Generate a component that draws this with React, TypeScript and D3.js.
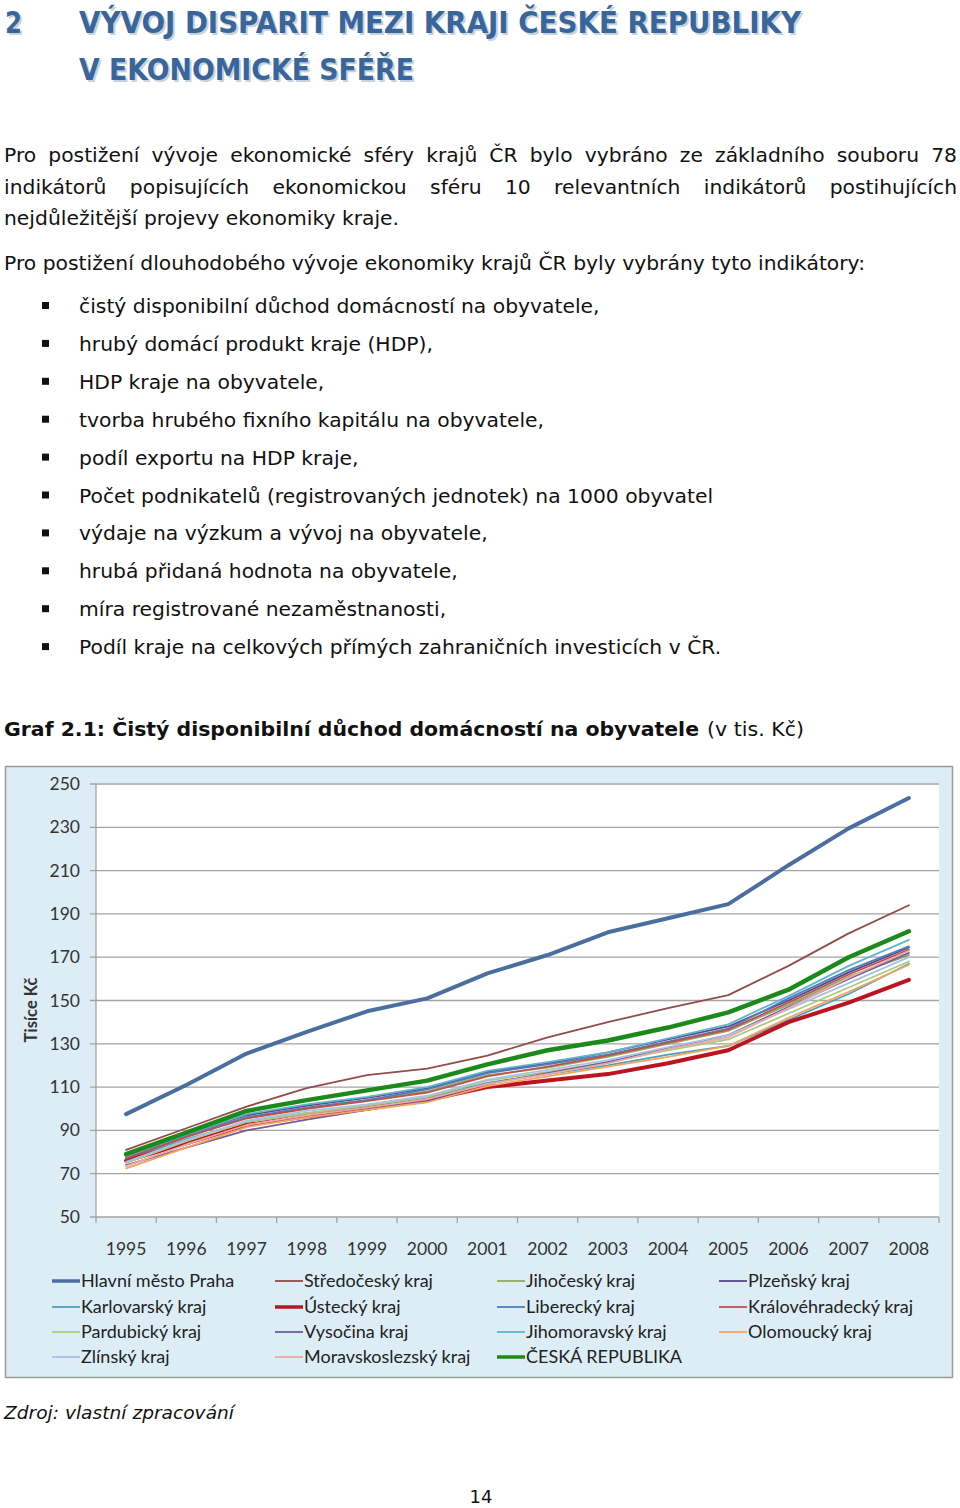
import * as React from "react";
import * as d3 from "d3";

// ---- data ----
const years = ["1995", "1996", "1997", "1998", "1999", "2000", "2001", "2002", "2003", "2004", "2005", "2006", "2007", "2008"];
const yTicks = [50, 70, 90, 110, 130, 150, 170, 190, 210, 230, 250];

const regionNames = [
  "Hlavní město Praha",
  "Středočeský kraj",
  "Jihočeský kraj",
  "Plzeňský kraj",
  "Karlovarský kraj",
  "Ústecký kraj",
  "Liberecký kraj",
  "Královéhradecký kraj",
  "Pardubický kraj",
  "Vysočina kraj",
  "Jihomoravský kraj",
  "Olomoucký kraj",
  "Zlínský kraj",
  "Moravskoslezský kraj",
  "ČESKÁ REPUBLIKA",
];

const praha = [97.5, 111, 125.5, 135.5, 145, 151, 162.5, 171, 181.5, 188, 194.5, 212.5, 229.5, 243.5];
const stredocesky = [81, 91, 101, 109.5, 115.5, 118.5, 124.5, 133, 140, 146.5, 152.5, 166, 181, 194];
const jihocesky = [77, 87, 96, 100.5, 104, 108, 115.5, 119, 124, 130, 136, 148, 161, 171];
const plzensky = [78, 88, 97, 101.5, 105, 109.5, 117, 121, 126, 132, 138, 150, 163, 174.5];
const karlovarsky = [76.5, 86, 94, 98, 101, 105, 112, 116, 120, 125, 129, 141, 153, 167];
const ustecky = [76, 84, 92.5, 96.5, 100, 104, 110, 113, 116, 121, 127, 140, 149, 159.5];
const liberecky = [77.5, 87.5, 96, 100.5, 104, 109, 116.5, 120.5, 125, 131, 137, 151, 164, 175];
const kralovehradecky = [77, 87, 95.5, 100, 103.5, 107.5, 115, 119.5, 124.5, 130.5, 136.5, 149, 162, 173.5];
const pardubicky = [75, 85, 94, 98, 101.5, 105.5, 113, 117, 121.5, 127, 132, 144, 156, 168];
const vysocina = [74, 82, 90, 95, 99.5, 104, 111.5, 116.5, 121.5, 128, 134, 147, 160, 172];
const jihomoravsky = [78, 88, 97.5, 102, 105.5, 110, 117.5, 121.5, 126, 132.5, 139, 152, 166, 178];
const olomoucky = [72.5, 82, 91.5, 96, 99.5, 103, 110.5, 115, 119.5, 124, 129, 142, 154, 166.5];
const zlinsky = [75.5, 85.5, 94.5, 99, 102, 106, 113.5, 118, 122.5, 128.5, 134, 146, 158, 170];
const moravskoslezsky = [73.5, 83.5, 92.5, 97, 100.5, 104.5, 111.5, 116, 121, 127.5, 133, 146.5, 160.5, 173];
const ceskaRepublika = [79, 89, 99, 104, 108.5, 113, 120.5, 127, 131.5, 137.5, 144.5, 155, 170, 182];

const regionValues = [
  praha, stredocesky, jihocesky, plzensky, karlovarsky, ustecky, liberecky,
  kralovehradecky, pardubicky, vysocina, jihomoravsky, olomoucky, zlinsky,
  moravskoslezsky, ceskaRepublika,
];

// ---- text ----
const headingNumber = "2";
const headingLines = ["VÝVOJ DISPARIT MEZI KRAJI ČESKÉ REPUBLIKY", "V EKONOMICKÉ SFÉŘE"];
const para1Lines = [
  "Pro postižení vývoje ekonomické sféry krajů ČR bylo vybráno ze základního souboru 78",
  "indikátorů popisujících ekonomickou sféru 10 relevantních indikátorů postihujících",
  "nejdůležitější projevy ekonomiky kraje.",
];
const para2 = "Pro postižení dlouhodobého vývoje ekonomiky krajů ČR byly vybrány tyto indikátory:";
const bullets = [
  "čistý disponibilní důchod domácností na obyvatele,",
  "hrubý domácí produkt kraje (HDP),",
  "HDP kraje na obyvatele,",
  "tvorba hrubého fixního kapitálu na obyvatele,",
  "podíl exportu na HDP kraje,",
  "Počet podnikatelů (registrovaných jednotek) na 1000 obyvatel",
  "výdaje na výzkum a vývoj na obyvatele,",
  "hrubá přidaná hodnota na obyvatele,",
  "míra registrované nezaměstnanosti,",
  "Podíl kraje na celkových přímých zahraničních investicích v ČR.",
];
const chartTitleBold = "Graf 2.1: Čistý disponibilní důchod domácností na obyvatele";
const chartTitleRest = "(v tis. Kč)";
const yAxisTitle = "Tisíce Kč";
const sourceText = "Zdroj: vlastní zpracování";
const pageNumber = "14";

// ---- styles ----
const seriesColors = [
  "#4a6f9e", "#924c4a", "#90ab5f", "#55488a", "#4aa0bd", "#bb1420", "#4f7fbd",
  "#c0504d", "#aacb7c", "#715c98", "#62b4cc", "#f5a460", "#a9c1e2", "#e8a9a9", "#1b8a1b",
];
const seriesWidths = [4, 1.8, 1.8, 1.8, 1.8, 4, 1.8, 1.8, 1.8, 1.8, 1.8, 1.8, 1.8, 1.8, 4.5];

const BODY_FONT = "'DejaVu Sans', Verdana, sans-serif";
const CHART_FONT = "Lato, 'Open Sans', sans-serif";

const Page = () => {
  const svgRef = React.useRef<SVGSVGElement>(null);

  React.useEffect(() => {
    const svg = d3.select(svgRef.current);
    svg.selectAll("*").remove();

    // fit a text element to a given width
    const fit = (sel, w) => sel.attr("textLength", w).attr("lengthAdjust", "spacingAndGlyphs");

    // ---- heading ----
    const heading = svg.append("g")
      .attr("font-family", BODY_FONT)
      .attr("font-weight", "bold")
      .attr("font-size", 30);
    const headWidths = [722, 335];
    const headBase = [33, 80];
    [[2, 2, "#c9d1db"], [0, 0, "#38659a"]].forEach(([dx, dy, col]) => {
      heading.append("text")
        .attr("x", 5 + (dx as number)).attr("y", headBase[0] + (dy as number))
        .attr("fill", col as string).text(headingNumber)
        .call(fit, 17);
      headingLines.forEach((t, i) => {
        heading.append("text")
          .attr("x", 79 + (dx as number)).attr("y", headBase[i] + (dy as number))
          .attr("fill", col as string).text(t)
          .call(fit, headWidths[i]);
      });
    });

    // ---- body text ----
    const body = svg.append("g")
      .attr("font-family", BODY_FONT)
      .attr("font-size", 19)
      .attr("fill", "#111");

    // horizontal scale derived from the second paragraph
    const probe = body.append("text").text(para2);
    const natural = (probe.node() as SVGTextElement).getComputedTextLength();
    const k = 861 / natural;
    probe.attr("x", 4).attr("y", 270).call(fit, 861);

    const justify = (text, x0, x1, y) => {
      const words = text.split(" ");
      const nodes = words.map((w) => body.append("text").attr("y", y).text(w));
      const ws = nodes.map((n) => (n.node() as SVGTextElement).getComputedTextLength() * k);
      const gap = (x1 - x0 - d3.sum(ws)) / (words.length - 1);
      let x = x0;
      nodes.forEach((n, i) => {
        n.attr("x", x).call(fit, ws[i]);
        x += ws[i] + gap;
      });
    };
    justify(para1Lines[0], 4, 957, 162);
    justify(para1Lines[1], 4, 957, 194);
    const last = body.append("text").attr("x", 4).attr("y", 225).text(para1Lines[2]);
    last.call(fit, (last.node() as SVGTextElement).getComputedTextLength() * k);

    bullets.forEach((b, i) => {
      const y = 313 + i * 37.9;
      body.append("rect").attr("x", 42).attr("y", y - 11).attr("width", 7).attr("height", 7).attr("fill", "#111");
      const t = body.append("text").attr("x", 79).attr("y", y).text(b);
      t.call(fit, (t.node() as SVGTextElement).getComputedTextLength() * k);
    });

    // ---- chart title ----
    const ct = svg.append("g").attr("font-family", BODY_FONT).attr("font-size", 19).attr("fill", "#111");
    ct.append("text").attr("x", 4).attr("y", 736).attr("font-weight", "bold").text(chartTitleBold).call(fit, 695);
    const ctr = ct.append("text").attr("x", 707).attr("y", 736).text(chartTitleRest);
    ctr.call(fit, 97);

    // ---- chart ----
    const plot = { left: 96, right: 939, top: 784, bottom: 1217 };
    const x = d3.scaleBand<string>().domain(years).range([plot.left, plot.right]);
    const y = d3.scaleLinear().domain([50, 250]).range([plot.bottom, plot.top]);
    const cx = (yr: string) => (x(yr) as number) + x.bandwidth() / 2;

    const chart = svg.append("g").attr("font-family", CHART_FONT);
    chart.append("rect")
      .attr("x", 5.5).attr("y", 766.5).attr("width", 947).attr("height", 611)
      .attr("fill", "#dcedf5").attr("stroke", "#9a9a9a").attr("stroke-width", 1.5);
    chart.append("rect")
      .attr("x", plot.left).attr("y", y(250) - 1).attr("width", plot.right - plot.left)
      .attr("height", plot.bottom - y(250) + 1).attr("fill", "#fff");

    // gridlines
    chart.append("g").selectAll("line").data(yTicks).join("line")
      .attr("x1", plot.left - 6).attr("x2", plot.right)
      .attr("y1", (d) => y(d)).attr("y2", (d) => y(d))
      .attr("stroke", "#a3a3a3").attr("stroke-width", 1.3);
    chart.append("line")
      .attr("x1", plot.left).attr("x2", plot.left).attr("y1", y(250)).attr("y2", plot.bottom)
      .attr("stroke", "#a3a3a3").attr("stroke-width", 1.3);
    // x ticks at band edges
    const edges = years.map((yr) => x(yr) as number).concat([plot.right]);
    chart.append("g").selectAll("line").data(edges).join("line")
      .attr("x1", (d) => d).attr("x2", (d) => d)
      .attr("y1", plot.bottom).attr("y2", plot.bottom + 6)
      .attr("stroke", "#a3a3a3").attr("stroke-width", 1.3);

    chart.append("g").selectAll("text").data(yTicks).join("text")
      .attr("x", 80).attr("y", (d) => y(d) + 6)
      .attr("text-anchor", "end").attr("font-size", 17.5).attr("fill", "#333")
      .text((d) => d);
    chart.append("g").selectAll("text").data(years).join("text")
      .attr("x", (d) => cx(d)).attr("y", 1255)
      .attr("text-anchor", "middle").attr("font-size", 17.5).attr("fill", "#333")
      .text((d) => d);

    chart.append("text")
      .attr("transform", "translate(37 1010) rotate(-90)")
      .attr("text-anchor", "middle").attr("font-size", 16.5).attr("font-weight", "bold").attr("fill", "#333")
      .text(yAxisTitle);

    // series
    const series = regionNames.map((name, i) => ({
      name,
      values: regionValues[i],
      color: seriesColors[i],
      width: seriesWidths[i],
    }));
    const line = d3.line<number>()
      .x((_, i) => cx(years[i]))
      .y((d) => y(d));
    chart.append("g").selectAll("path").data(series).join("path")
      .attr("d", (d) => line(d.values))
      .attr("fill", "none")
      .attr("stroke", (d) => d.color)
      .attr("stroke-width", (d) => d.width)
      .attr("stroke-linejoin", "round")
      .attr("stroke-linecap", "round");

    // legend
    const colX = [52, 275, 497, 719];
    const rowY = [1281, 1307, 1332, 1357];
    const leg = chart.append("g").selectAll("g").data(series).join("g")
      .attr("transform", (_, i) => `translate(${colX[i % 4]} ${rowY[Math.floor(i / 4)]})`);
    leg.append("line")
      .attr("x1", 0).attr("x2", 28).attr("y1", 0).attr("y2", 0)
      .attr("stroke", (d) => d.color)
      .attr("stroke-width", (d) => (d.width > 3 ? 3.5 : 1.8));
    leg.append("text")
      .attr("x", 29).attr("y", 6)
      .attr("font-size", 18).attr("fill", "#222")
      .text((d) => d.name);

    // ---- source and page number ----
    const src = svg.append("text")
      .attr("x", 4).attr("y", 1419)
      .attr("font-family", BODY_FONT).attr("font-style", "italic").attr("font-size", 18).attr("fill", "#111")
      .text(sourceText);
    src.call(fit, 230);
    svg.append("text")
      .attr("x", 481).attr("y", 1503).attr("text-anchor", "middle")
      .attr("font-family", BODY_FONT).attr("font-size", 18).attr("fill", "#111")
      .text(pageNumber);
  }, []);

  return (
    <svg
      ref={svgRef}
      width={960}
      height={1508}
      style={{ position: "absolute", left: 0, top: 0, background: "#fff" }}
    />
  );
};

export default function App() {
  return <Page />;
}
